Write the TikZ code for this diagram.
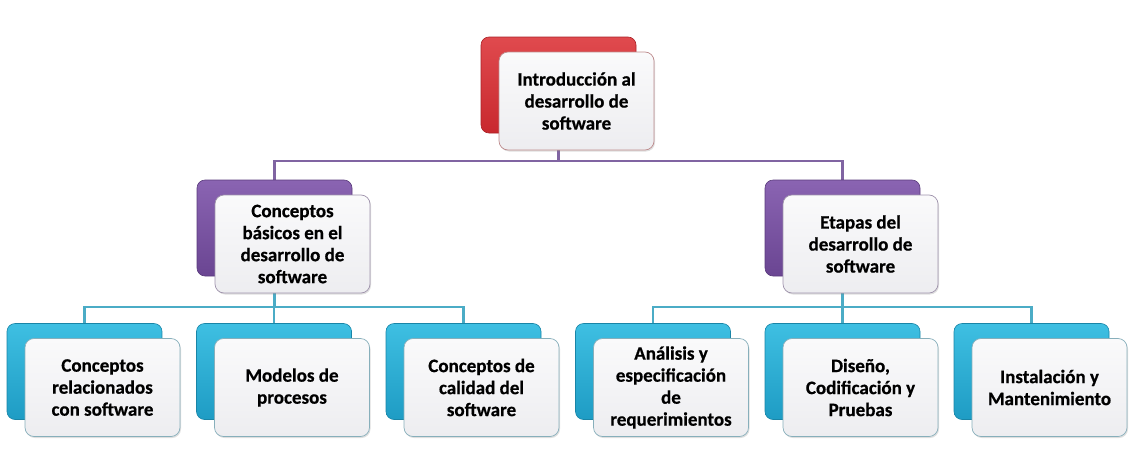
\documentclass[tikz,border=0pt]{standalone}
\usepackage{fontspec}
\setmainfont{Carlito}[BoldFeatures={FakeBold=0.6}]
\usetikzlibrary{shadows}
\definecolor{redA}{HTML}{E04A4E}
\definecolor{redB}{HTML}{C8282E}
\definecolor{purA}{HTML}{8A64B2}
\definecolor{purB}{HTML}{6A4592}
\definecolor{cyaA}{HTML}{3EBFE2}
\definecolor{cyaB}{HTML}{1E9CC4}
\definecolor{purL}{HTML}{8064A2}
\definecolor{cyaL}{HTML}{4BACC6}
\definecolor{frTop}{HTML}{FAFAFB}
\definecolor{frBot}{HTML}{EDEDF0}
\tikzset{
  backbox/.style={rectangle, rounded corners=8pt, minimum width=155pt, minimum height=96pt, inner sep=0pt},
  redback/.style={backbox, top color=redA, bottom color=redB, draw=redB!85!black, line width=0.6pt},
  purback/.style={backbox, top color=purA, bottom color=purB, draw=purB!85!black, line width=0.6pt},
  cyaback/.style={backbox, top color=cyaA, bottom color=cyaB, draw=cyaB!85!black, line width=0.6pt},
  frontbox/.style={rectangle, rounded corners=9pt, minimum width=155pt, minimum height=98pt, inner sep=2pt,
    top color=frTop, bottom color=frBot, line width=0.7pt, align=center,
    font=\fontsize{19}{22}\selectfont\bfseries,
    drop shadow={opacity=0.25, shadow xshift=1pt, shadow yshift=-1.5pt}},
  redfront/.style={frontbox, draw=redB!45!gray!70},
  purfront/.style={frontbox, draw=purB!45!gray!70},
  cyafront/.style={frontbox, draw=cyaB!45!gray!70},
  pline/.style={draw=purL, line width=2.6pt},
  cline/.style={draw=cyaL, line width=2.6pt}
}
\begin{document}
\begin{tikzpicture}[x=1pt,y=-1pt]
\useasboundingbox (0,0) rectangle (1134,458);
% coordinates of back boxes (centers)
\coordinate (cr0) at (558.5,85);
\coordinate (cp1) at (274.5,228);
\coordinate (cp2) at (842.5,228);
\foreach \i/\x in {1/84.5,2/274,3/463.5,4/653,5/842.5,6/1031.5} {\coordinate (cc\i) at (\x,371.5);}
% connectors (behind boxes)
\draw[pline] (cr0) -- (cr0 |- 0,161) -| (cp1);
\draw[pline] (cr0 |- 0,161) -| (cp2);
\draw[cline] (cp1) -- (cp1 |- 0,307) -| (cc1);
\draw[cline] (cp1 |- 0,307) -| (cc2);
\draw[cline] (cp1 |- 0,307) -| (cc3);
\draw[cline] (cp2) -- (cp2 |- 0,307) -| (cc4);
\draw[cline] (cp2 |- 0,307) -| (cc5);
\draw[cline] (cp2 |- 0,307) -| (cc6);
% boxes
\node[redback] (r0) at (cr0) {};
\node[redfront] (r) at ([shift={(18,16)}]cr0) {Introducción al\\desarrollo de\\software};
\node[purback] (p1b) at (cp1) {};
\node[purfront] (p1) at ([shift={(18,16)}]cp1) {Conceptos\\básicos en el\\desarrollo de\\software};
\node[purback] (p2b) at (cp2) {};
\node[purfront] (p2) at ([shift={(18,16)}]cp2) {Etapas del\\desarrollo de\\software};
\node[cyaback] (c1b) at (cc1) {};
\node[cyafront] (c1) at ([shift={(18,16)}]cc1) {Conceptos\\relacionados\\con software};
\node[cyaback] (c2b) at (cc2) {};
\node[cyafront] (c2) at ([shift={(18,16)}]cc2) {Modelos de\\procesos};
\node[cyaback] (c3b) at (cc3) {};
\node[cyafront] (c3) at ([shift={(18,16)}]cc3) {Conceptos de\\calidad del\\software};
\node[cyaback] (c4b) at (cc4) {};
\node[cyafront] (c4) at ([shift={(18,16)}]cc4) {Análisis y\\especificación\\de\\requerimientos};
\node[cyaback] (c5b) at (cc5) {};
\node[cyafront] (c5) at ([shift={(18,16)}]cc5) {Diseño,\\Codificación y\\Pruebas};
\node[cyaback] (c6b) at (cc6) {};
\node[cyafront] (c6) at ([shift={(18,16)}]cc6) {Instalación y\\Mantenimiento};
\end{tikzpicture}
\end{document}
